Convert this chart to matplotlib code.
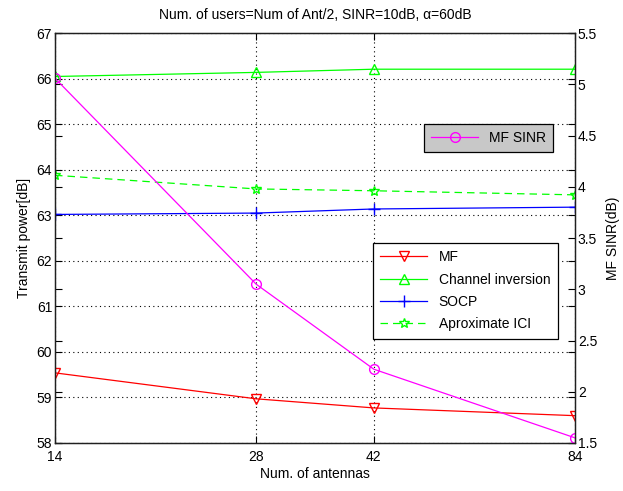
import numpy as np
import matplotlib.pyplot as plt
from matplotlib.ticker import NullLocator

plt.rcParams['font.family'] = ['Liberation Sans Narrow', 'Liberation Sans', 'DejaVu Sans']
plt.rcParams['font.size'] = 9

# data
antennas = [14, 28, 42, 84]
mf = [59.54, 58.97, 58.77, 58.6]
chan_inv = [66.05, 66.14, 66.21, 66.21]
socp = [63.02, 63.05, 63.14, 63.18]
approx_ici = [63.88, 63.58, 63.54, 63.45]
mf_sinr = [5.06, 3.05, 2.22, 1.55]

left_ticks = np.arange(58, 68, 1)
right_ticks = np.arange(1.5, 5.6, 0.5)

fig = plt.figure(figsize=[6.23, 4.91], dpi=100)
ax = fig.add_axes([0.0883, 0.0978, 0.8347, 0.8345])
ax2 = ax.twinx()

ax.plot(antennas, mf, color=[1, 0, 0], lw=0.9, marker='v', ms=7, mfc='none', label='MF')
ax.plot(antennas, chan_inv, color=[0, 1, 0], lw=0.9, marker='^', ms=7, mfc='none', label='Channel inversion')
ax.plot(antennas, socp, color=[0, 0, 1], lw=0.9, marker='+', ms=9, label='SOCP')
ax.plot(antennas, approx_ici, color=[0, 1, 0], lw=0.9, ls=(0, (6, 4)), marker='*', ms=7, mfc='none',
        label='Aproximate ICI')
ax2.plot(antennas, mf_sinr, color=[1, 0, 1], lw=0.9, marker='o', ms=7, mfc='none', label='MF SINR')

ax.set_xscale('log')
ax.set_xlim(14, 84)
ax.set_xticks(antennas)
ax.set_xticklabels([str(a) for a in antennas])
ax.xaxis.set_minor_locator(NullLocator())
ax.set_ylim(58, 67)
ax.set_yticks(left_ticks)
ax2.set_ylim(1.5, 5.5)
ax2.set_yticks(right_ticks)
ax2.set_yticklabels(['1.5', '2', '2.5', '3', '3.5', '4', '4.5', '5', '5.5'])

ax.grid(True, ls=(0, (1, 3)), color='k', lw=0.8)
ax.tick_params(direction='in', length=5, top=True, right=True, labelsize=10, pad=2)
ax.tick_params(axis='x', pad=5)
ax2.tick_params(direction='in', length=5, left=True, labelsize=10, pad=2)
for a in (ax, ax2):
    for s in a.spines.values():
        s.set_linewidth(0.9)
        s.set_color('#202020')

ax.set_xlabel('Num. of antennas', fontsize=10, labelpad=2)
ax.set_ylabel('Transmit power[dB]', fontsize=10, labelpad=4)
ax2.set_ylabel('MF SINR(dB)', fontsize=10, labelpad=6)
ax.set_title('Num. of users=Num of Ant/2, SINR=10dB, α=60dB', fontsize=10, pad=10)

leg = ax.legend(loc='upper right', bbox_to_anchor=(0.967, 0.489), borderaxespad=0, fancybox=False,
                framealpha=1, edgecolor='k', fontsize=10, handlelength=3.4, borderpad=0.55,
                labelspacing=0.6)
leg.get_frame().set_linewidth(0.9)
leg2 = ax2.legend(loc='upper right', bbox_to_anchor=(0.958, 0.779), borderaxespad=0, fancybox=False,
                  framealpha=1, edgecolor='k', facecolor='#c8c8c8', fontsize=10, handlelength=3.4,
                  borderpad=0.5)
leg2.get_frame().set_linewidth(0.9)

fig.savefig('out.png', dpi=100)
